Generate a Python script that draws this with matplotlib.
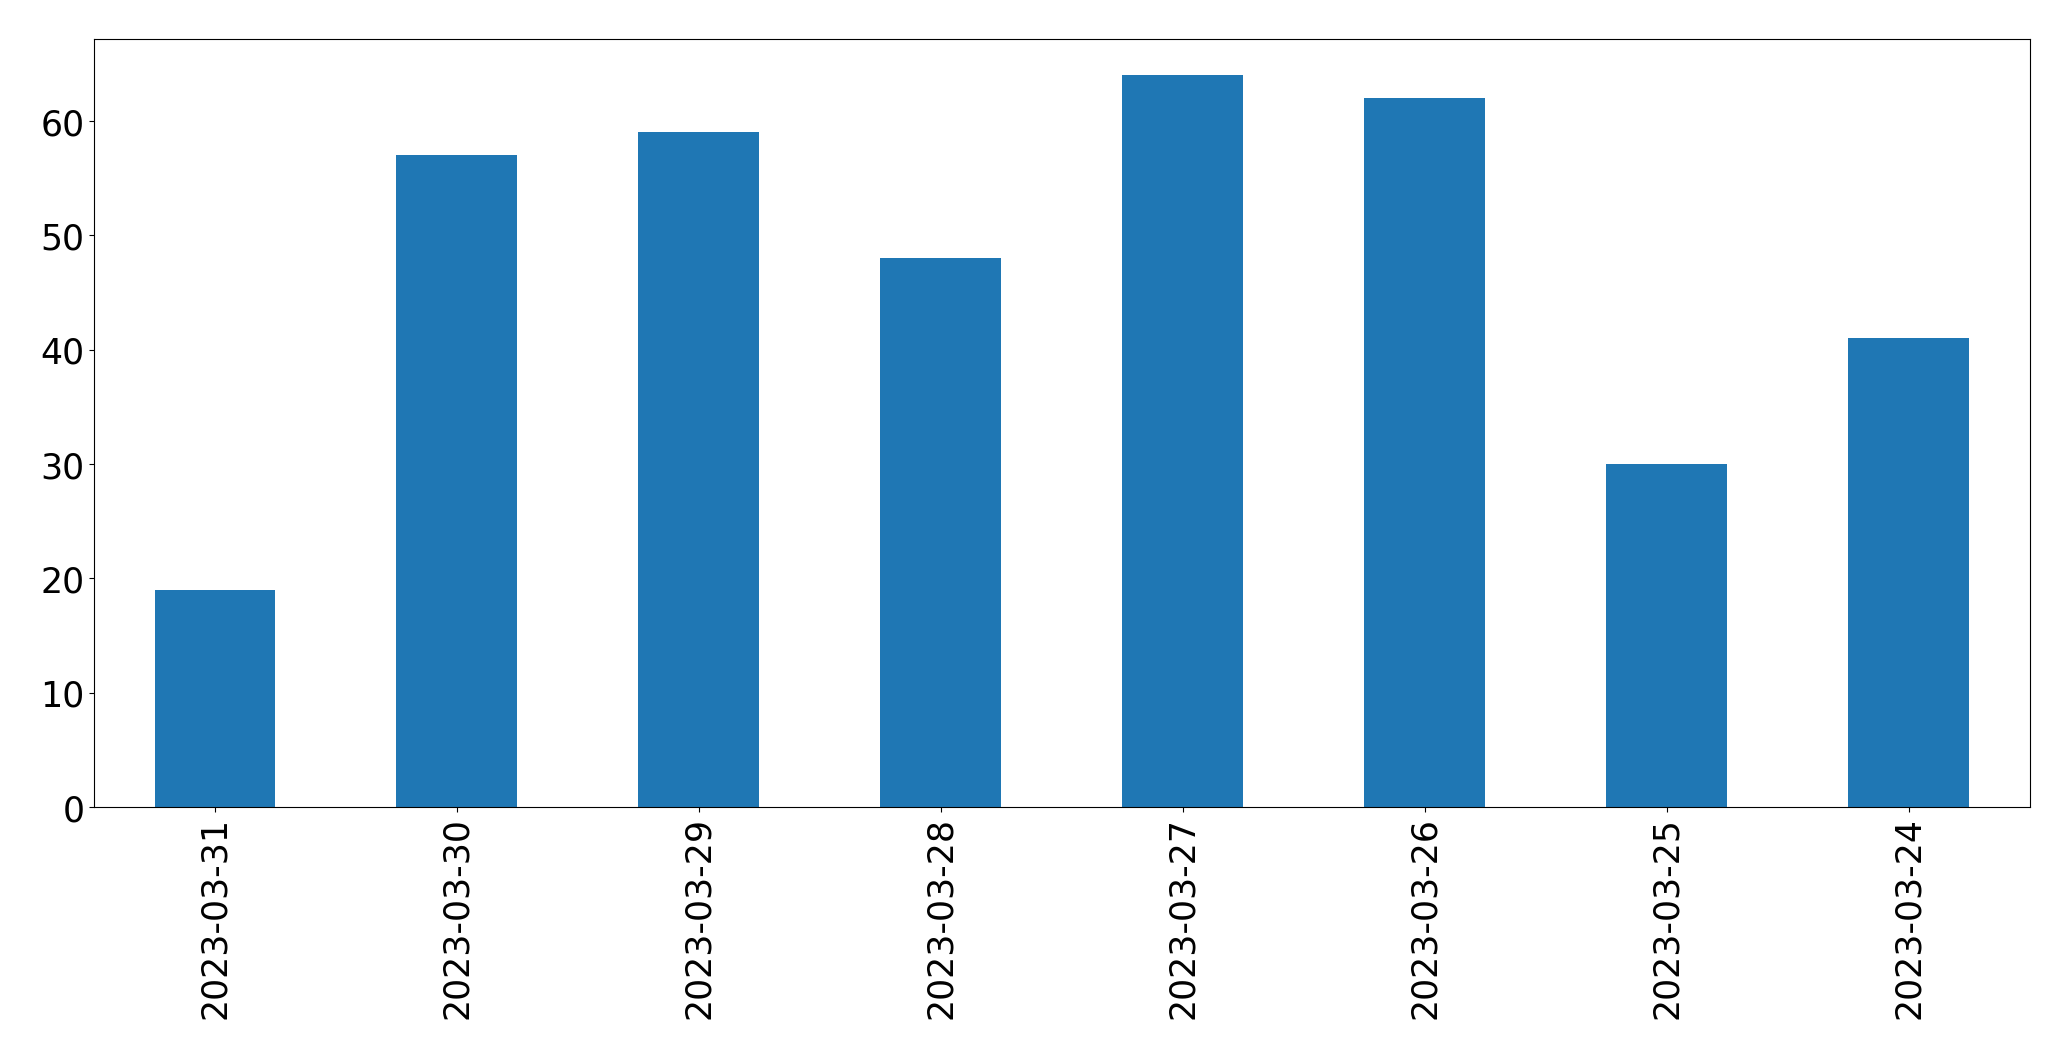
import matplotlib
matplotlib.use('Agg')
import matplotlib.pyplot as plt
import pandas as pd

dates = ['2023-03-31', '2023-03-30', '2023-03-29', '2023-03-28',
         '2023-03-27', '2023-03-26', '2023-03-25', '2023-03-24']
counts = [19, 57, 59, 48, 64, 62, 30, 41]

s = pd.Series(counts, index=dates)

fig, ax = plt.subplots(figsize=(20.71, 10.605), dpi=100)
s.plot.bar(ax=ax, color='#1f77b4', fontsize=25)
fig.subplots_adjust(left=0.0454, right=0.980, top=0.963, bottom=0.2385)
plt.savefig('out.png', dpi=100)
plt.close()
